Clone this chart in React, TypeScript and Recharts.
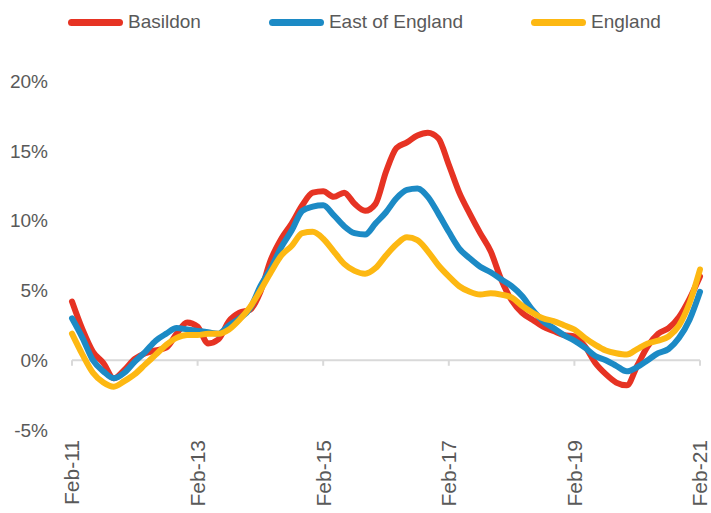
import React from 'react';
import { LineChart, Line, XAxis, YAxis, ReferenceLine } from 'recharts';

// two-monthly points, Feb-11 to Feb-21
const months = [
  'Feb-11', 'Apr-11', 'Jun-11', 'Aug-11', 'Oct-11', 'Dec-11',
  'Feb-12', 'Apr-12', 'Jun-12', 'Aug-12', 'Oct-12', 'Dec-12',
  'Feb-13', 'Apr-13', 'Jun-13', 'Aug-13', 'Oct-13', 'Dec-13',
  'Feb-14', 'Apr-14', 'Jun-14', 'Aug-14', 'Oct-14', 'Dec-14',
  'Feb-15', 'Apr-15', 'Jun-15', 'Aug-15', 'Oct-15', 'Dec-15',
  'Feb-16', 'Apr-16', 'Jun-16', 'Aug-16', 'Oct-16', 'Dec-16',
  'Feb-17', 'Apr-17', 'Jun-17', 'Aug-17', 'Oct-17', 'Dec-17',
  'Feb-18', 'Apr-18', 'Jun-18', 'Aug-18', 'Oct-18', 'Dec-18',
  'Feb-19', 'Apr-19', 'Jun-19', 'Aug-19', 'Oct-19', 'Dec-19',
  'Feb-20', 'Apr-20', 'Jun-20', 'Aug-20', 'Oct-20', 'Dec-20',
  'Feb-21',
];

const basildon = [
  4.2, 2.2, 0.6, -0.2, -1.3, -0.7,
  0.1, 0.5, 0.7, 0.9, 1.9, 2.7,
  2.4, 1.2, 1.5, 2.8, 3.4, 3.6,
  4.9, 7.2, 8.7, 9.8, 11.1, 12.0,
  12.1, 11.7, 12.0, 11.2, 10.7, 11.2,
  13.5, 15.2, 15.6, 16.1, 16.3, 15.9,
  14.0, 12.0, 10.5, 9.1, 7.8, 5.8,
  4.3, 3.4, 2.9, 2.4, 2.1, 1.8,
  1.7, 1.0, -0.2, -1.0, -1.6, -1.8,
  -0.4, 1.0, 1.9, 2.3, 3.1, 4.4,
  6.0,
];

const eastOfEngland = [
  3.0, 1.6, 0.0, -0.8, -1.3, -0.9,
  -0.1, 0.6, 1.4, 1.9, 2.3, 2.2,
  2.1, 2.0, 1.9, 2.5, 3.0, 3.7,
  5.3, 6.6, 8.1, 9.3, 10.7, 11.0,
  11.1, 10.4, 9.6, 9.1, 9.0, 9.8,
  10.6, 11.6, 12.2, 12.3, 11.7, 10.5,
  9.2, 8.0, 7.3, 6.7, 6.3, 5.8,
  5.3, 4.6, 3.6, 2.8, 2.3, 1.8,
  1.4, 0.9, 0.3, 0.0, -0.4, -0.8,
  -0.5, 0.0, 0.5, 0.8, 1.6, 2.9,
  4.9,
];

const england = [
  1.9, 0.4, -0.9, -1.6, -1.9, -1.5,
  -1.0, -0.3, 0.4, 1.1, 1.6, 1.8,
  1.8, 1.9, 1.9, 2.2, 2.9, 3.8,
  5.0, 6.3, 7.5, 8.2, 9.1, 9.2,
  8.7, 7.8, 6.9, 6.4, 6.2, 6.6,
  7.5, 8.3, 8.8, 8.6, 7.8, 6.8,
  6.0, 5.3, 4.9, 4.7, 4.8, 4.7,
  4.5, 3.9, 3.4, 3.0, 2.8, 2.5,
  2.2, 1.6, 1.1, 0.7, 0.5, 0.4,
  0.8, 1.2, 1.4, 1.7, 2.5, 4.1,
  6.5,
];

const yTicks = [-5, 0, 5, 10, 15, 20];
const xLabels = ['Feb-11', 'Feb-13', 'Feb-15', 'Feb-17', 'Feb-19', 'Feb-21'];

const series = [
  { key: 'basildon', name: 'Basildon', color: '#E63323' },
  { key: 'east', name: 'East of England', color: '#1C8AC5' },
  { key: 'england', name: 'England', color: '#FDB812' },
];

const data = months.map((m, i) => ({
  month: m,
  basildon: basildon[i],
  east: eastOfEngland[i],
  england: england[i],
}));

const font = '"Liberation Sans", Arial, sans-serif';
const grey = '#595959';

const XTick = (props: any) => {
  const { x, y, payload } = props;
  return (
    <text
      x={x}
      y={y}
      dy="0.35em"
      textAnchor="end"
      transform={`rotate(-90, ${x}, ${y})`}
      fill={grey}
      fontSize={21}
      fontFamily={font}
    >
      {payload.value}
    </text>
  );
};

export default function App() {
  return (
    <div style={{ position: 'absolute', left: 0, top: 0, width: 711, height: 513, background: '#fff' }}>
      {/* legend on top of the chart */}
      <div
        style={{
          position: 'absolute', left: 68, top: 10, display: 'flex', gap: 68,
          fontFamily: font, fontSize: 19, color: grey, lineHeight: '24px', zIndex: 1,
        }}
      >
        {series.map((s) => (
          <div key={s.key} style={{ display: 'flex', alignItems: 'center' }}>
            <span style={{ display: 'inline-block', width: 55, height: 7, borderRadius: 4, background: s.color, marginRight: 5 }} />
            <span>{s.name}</span>
          </div>
        ))}
      </div>
      <LineChart width={711} height={513} data={data} margin={{ top: 81, right: 11, bottom: 3, left: 12 }}>
        <XAxis
          dataKey="month"
          interval={11}
          axisLine={false}
          tickLine={false}
          tickSize={0}
          tickMargin={10}
          height={80}
          tick={<XTick />}
        />
        <YAxis
          domain={[-5, 20]}
          ticks={yTicks}
          width={60}
          axisLine={false}
          tickLine={false}
          tickSize={0}
          tickMargin={24}
          tickFormatter={(v: number) => `${v}%`}
          tick={{ fill: grey, fontSize: 19, fontFamily: font }}
        />
        <ReferenceLine y={0} stroke="#D9D9D9" strokeWidth={2} />
        {xLabels.map((l) => (
          <ReferenceLine
            key={l}
            segment={[{ x: l, y: 0 }, { x: l, y: -0.4 }]}
            stroke="#D9D9D9"
            strokeWidth={2}
          />
        ))}
        {series.map((s) => (
          <Line
            key={s.key}
            type="monotone"
            dataKey={s.key}
            name={s.name}
            stroke={s.color}
            strokeWidth={6}
            strokeLinecap="round"
            dot={false}
            isAnimationActive={false}
          />
        ))}
      </LineChart>
    </div>
  );
}
